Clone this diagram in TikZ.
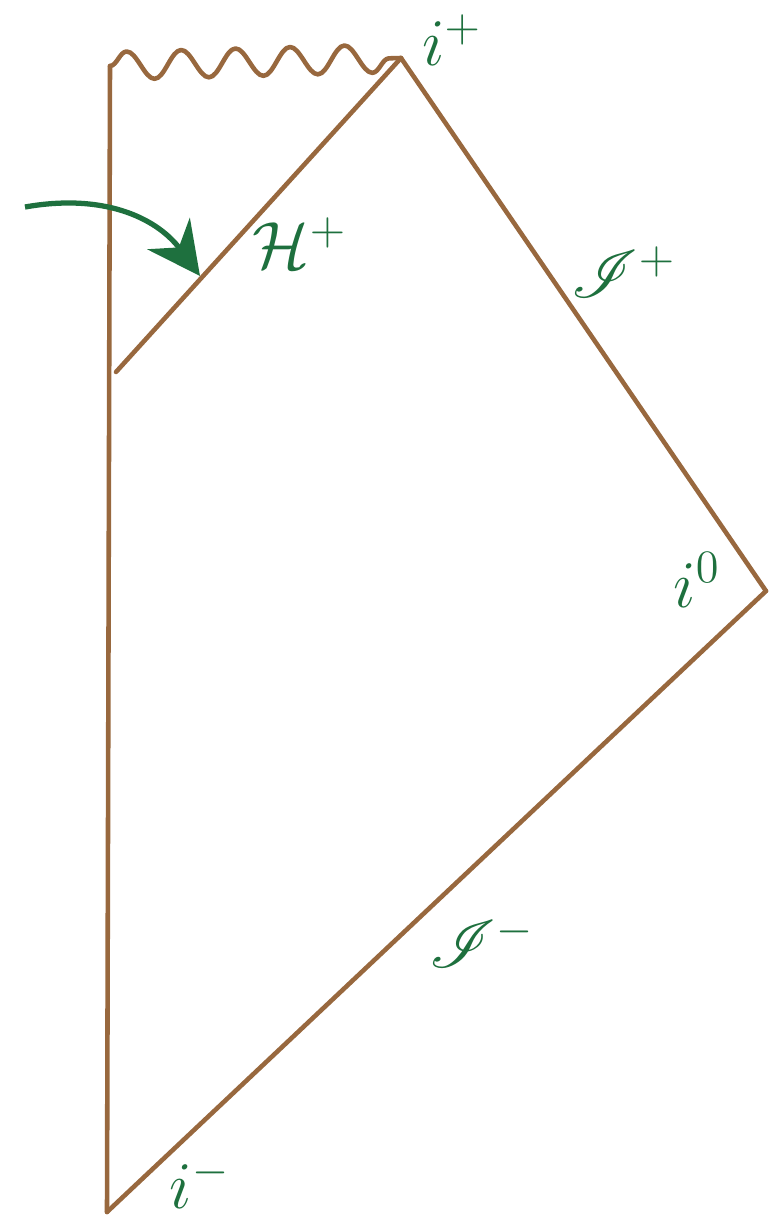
\documentclass[tikz,border=0pt]{standalone}
\usepackage{amsmath}
\usepackage{mathrsfs}
\usetikzlibrary{decorations.pathmorphing,arrows.meta}
\definecolor{penbrown}{RGB}{152,104,62}
\definecolor{pengreen}{RGB}{30,112,62}
\tikzset{
  edge/.style={draw=penbrown, line width=2.6pt, line cap=round, line join=round},
  lbl/.style={text=pengreen, font=\LARGE, scale=2.2}
}
\begin{document}
\begin{tikzpicture}[x=0.02cm, y=-0.02cm]
\useasboundingbox (0,0) rectangle (780,1230);
% corners of the diagram
\coordinate (tl) at (110,66);
\coordinate (iplus) at (401,58);
\coordinate (izero) at (766,591);
\coordinate (iminus) at (107,1212);
\coordinate (hfoot) at (116,372);
\coordinate (hmid) at (200,276);
\coordinate (astart) at (25,207);
% singularity
\draw[edge, decorate, decoration={snake, segment length=31, amplitude=8, post length=6}] (tl) -- (iplus);
\draw[edge] (tl) -- (iminus);
\draw[edge] (iplus) -- (izero);
\draw[edge] (izero) -- (iminus);
\draw[edge] (iplus) -- (hfoot);
% arrow to horizon
\draw[draw=pengreen, line width=3pt, -{Stealth[length=30, width=30]}]
  (astart) .. controls (110,192) and (160,222) .. (hmid);
\node[lbl] (lplus) at (452,40) {$i^+$};
\node[lbl] (lhor) at (300,243) {$\mathcal{H}^+$};
\node[lbl] (lscrip) at (624,272) {$\mathscr{I}^+$};
\node[lbl] (lzero) at (697,580) {$i^0$};
\node[lbl] (lscrim) at (482,942) {$\mathscr{I}^-$};
\node[lbl] (lminus) at (200,1183) {$i^-$};
\end{tikzpicture}
\end{document}
